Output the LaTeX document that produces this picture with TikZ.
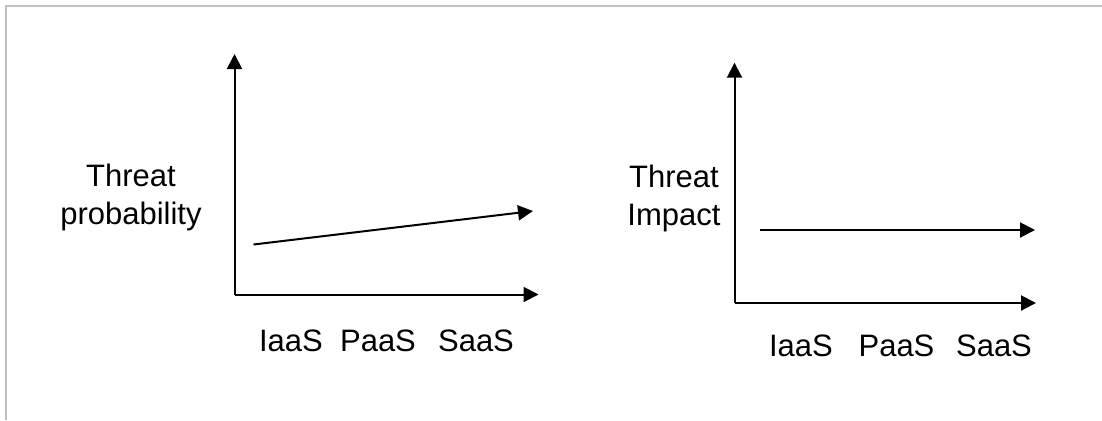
\documentclass[tikz,border=0pt]{standalone}
\usepackage{fontspec}
\setmainfont{Liberation Sans}
\usetikzlibrary{arrows.meta}
\begin{document}
\begin{tikzpicture}[x=0.5pt,y=-0.5pt,
  axisline/.style={line width=1pt,-{Triangle[length=7.5pt,width=7.5pt]}},
  trendline/.style={line width=1pt,-{Triangle[length=7.5pt,width=7.5pt]}},
  lbl/.style={font=\fontsize{15.5pt}{18.65pt}\selectfont,inner sep=0pt,anchor=base},
  ylbl/.style={lbl,align=center}]
\useasboundingbox (0,0) rectangle (1102,420);
\fill[white] (0,0) rectangle (1102,420);
\draw[line width=1pt,color={rgb,255:red,192;green,192;blue,192}] (6,420) -- (6,6) -- (1102,6);
% left chart
\coordinate (o1) at (234.5,294.5);
\coordinate (y1) at (234.5,54);
\coordinate (x1) at (538.5,294.5);
\coordinate (s1) at (253.5,244.5);
\coordinate (e1) at (533,211);
\draw[axisline] (o1) -- (y1);
\draw[axisline] (o1) -- (x1);
\draw[trendline] (s1) -- (e1);
\node[ylbl] (tp) at (131,224) {Threat\\probability};
\node[lbl] (ia1) at (291,351.7) {IaaS};
\node[lbl] (pa1) at (378,351.7) {PaaS};
\node[lbl] (sa1) at (476,351.7) {SaaS};
% right chart
\coordinate (o2) at (734.5,303);
\coordinate (y2) at (734.5,62.7);
\coordinate (x2) at (1036,303);
\coordinate (s2) at (760,230);
\coordinate (e2) at (1035,230);
\draw[axisline] (o2) -- (y2);
\draw[axisline] (o2) -- (x2);
\draw[trendline] (s2) -- (e2);
\node[ylbl] (ti) at (674,225) {Threat\\Impact};
\node[lbl] (ia2) at (801,356) {IaaS};
\node[lbl] (pa2) at (896.5,356) {PaaS};
\node[lbl] (sa2) at (994,356) {SaaS};
\end{tikzpicture}
\end{document}
